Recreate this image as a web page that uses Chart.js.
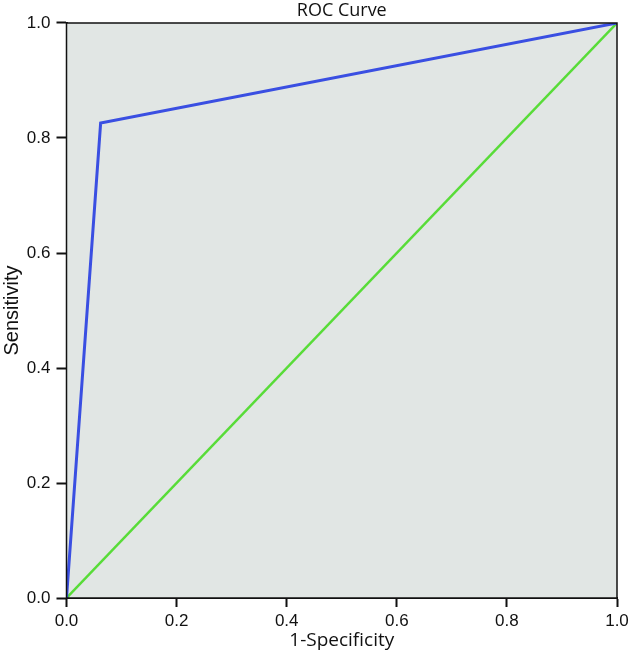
<!DOCTYPE html>
<html>
<head>
<meta charset="utf-8">
<script src="https://cdn.jsdelivr.net/npm/chart.js@4/dist/chart.umd.min.js"></script>
<style>
  html, body { margin: 0; padding: 0; background: #fff; }
  #wrap { width: 633px; height: 652px; position: relative; }
</style>
</head>
<body>
<div id="wrap"><canvas id="roc"></canvas></div>
<script>
// ROC curve points (1-specificity, sensitivity)
const rocFpr = [0.0, 0.062, 1.0]
const rocTpr = [0.0, 0.826, 1.0]
// reference diagonal
const refFpr = [0.0, 1.0]
const refTpr = [0.0, 1.0]
const tickValues = [0.0, 0.2, 0.4, 0.6, 0.8, 1.0]

const toPoints = (xs, ys) => xs.map((x, i) => ({ x: x, y: ys[i] }))

const plotFrame = {
  id: 'plotFrame',
  beforeDatasetsDraw(chart) {
    const a = chart.chartArea
    const ctx = chart.ctx
    ctx.save()
    ctx.fillStyle = '#e1e6e4'
    ctx.fillRect(a.left, a.top, a.right - a.left, a.bottom - a.top)
    ctx.restore()
  },
  afterDatasetsDraw(chart) {
    const a = chart.chartArea
    const ctx = chart.ctx
    ctx.save()
    ctx.strokeStyle = '#111'
    ctx.lineWidth = 1.5
    ctx.strokeRect(a.left, a.top, a.right - a.left, a.bottom - a.top)
    ctx.restore()
  }
}

const tickFont = { family: 'Liberation Sans', size: 17 }

new Chart(document.getElementById('roc'), {
  type: 'scatter',
  data: {
    datasets: [
      {
        label: 'ROC',
        data: toPoints(rocFpr, rocTpr),
        showLine: true,
        borderColor: '#3a4fe2',
        borderWidth: 3,
        pointRadius: 0,
        tension: 0
      },
      {
        label: 'Reference',
        data: toPoints(refFpr, refTpr),
        showLine: true,
        borderColor: '#58dc38',
        borderWidth: 2.5,
        pointRadius: 0,
        tension: 0
      }
    ]
  },
  options: {
    responsive: true,
    maintainAspectRatio: false,
    animation: false,
    layout: { padding: { left: 0, right: 16, top: 0, bottom: 0 } },
    plugins: {
      legend: { display: false },
      tooltip: { enabled: false },
      title: {
        display: true,
        text: 'ROC Curve',
        fullSize: false,
        color: '#111',
        font: { family: 'Open Sans', size: 18, weight: 'normal', lineHeight: 1.2 },
        padding: { top: 0, bottom: 1.4 }
      }
    },
    scales: {
      x: {
        type: 'linear',
        min: 0,
        max: 1,
        afterBuildTicks: s => { s.ticks = tickValues.map(v => ({ value: v })) },
        afterFit: s => { s.height = 54 },
        grid: {
          drawOnChartArea: false,
          drawTicks: true,
          tickLength: 9,
          tickWidth: 2,
          tickColor: '#111'
        },
        border: { display: true, color: '#111', width: 2 },
        ticks: {
          color: '#111',
          font: tickFont,
          padding: 4,
          callback: v => v.toFixed(1)
        },
        title: {
          display: true,
          text: '1-Specificity',
          color: '#111',
          font: { family: 'Open Sans', size: 19 },
          padding: { top: 0, bottom: 0 }
        }
      },
      y: {
        type: 'linear',
        min: 0,
        max: 1,
        afterBuildTicks: s => { s.ticks = tickValues.map(v => ({ value: v })) },
        afterFit: s => { s.width = 66.5 },
        grid: {
          drawOnChartArea: false,
          drawTicks: true,
          tickLength: 10,
          tickWidth: 2,
          tickColor: '#111'
        },
        border: { display: true, color: '#111', width: 2 },
        ticks: {
          color: '#111',
          font: tickFont,
          padding: 6,
          callback: v => v.toFixed(1)
        },
        title: {
          display: true,
          text: 'Sensitivity',
          color: '#111',
          font: { family: 'Liberation Sans', size: 20 },
          padding: { top: 0, bottom: 0 }
        }
      }
    }
  },
  plugins: [plotFrame]
})
</script>
</body>
</html>
